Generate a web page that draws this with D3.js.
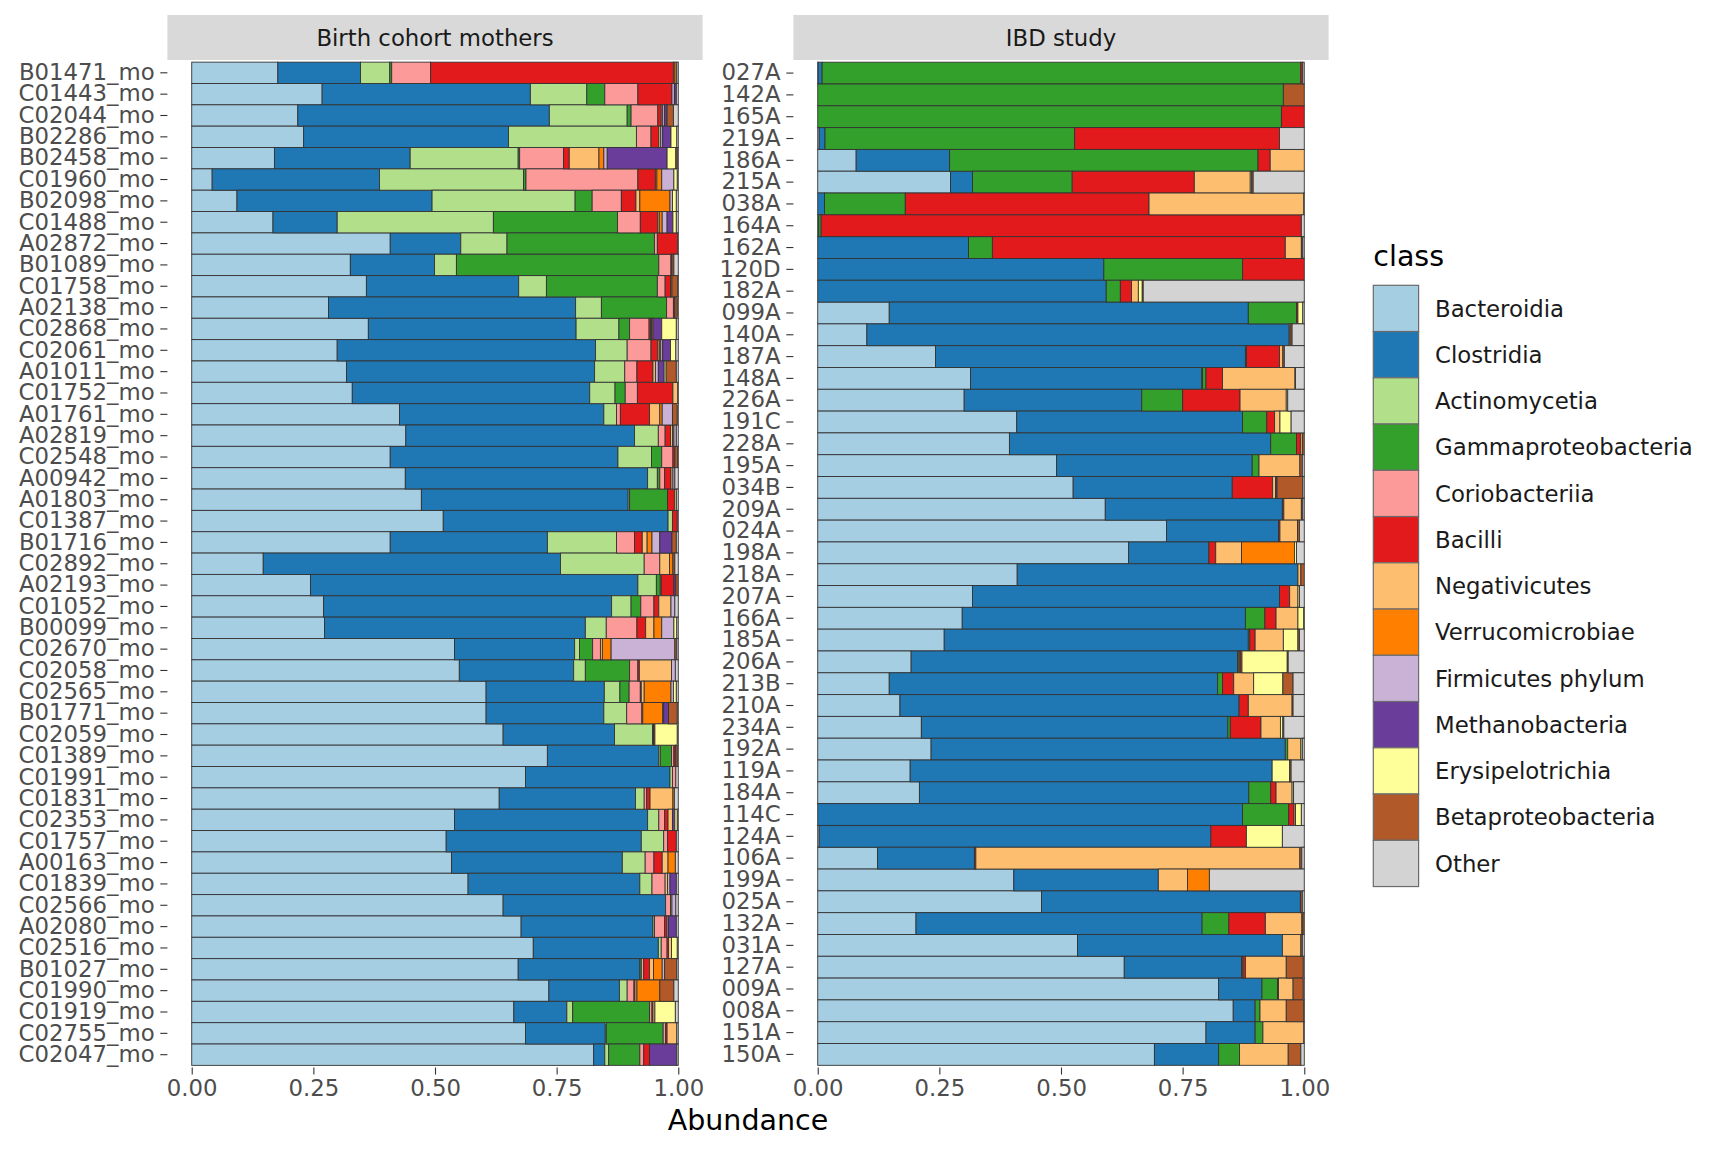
<!DOCTYPE html>
<html>
<head>
<meta charset="utf-8">
<script src="https://cdn.jsdelivr.net/npm/d3@7"></script>
<style>
  body { margin: 0; background: #fff; }
  text { font-family: "DejaVu Sans", sans-serif; }
</style>
</head>
<body>
<svg id="chart" width="1728" height="1152"></svg>
<script>
// class order as in the legend (stacked left -> right)
const classes = ["Bacteroidia", "Clostridia", "Actinomycetia", "Gammaproteobacteria",
  "Coriobacteriia", "Bacilli", "Negativicutes", "Verrucomicrobiae", "Firmicutes phylum",
  "Methanobacteria", "Erysipelotrichia", "Betaproteobacteria", "Other"];
const classColors = ["#A6CEE3", "#1F78B4", "#B2DF8A", "#33A02C", "#FB9A99", "#E31A1C",
  "#FDBF6F", "#FF7F00", "#CAB2D6", "#6A3D9A", "#FFFF99", "#B15928", "#D3D3D3"];

const panelTitles = ["Birth cohort mothers", "IBD study"];
const xTicks = [0, 0.25, 0.5, 0.75, 1];

const momSamples = ["B01471_mo", "C01443_mo", "C02044_mo", "B02286_mo", "B02458_mo", "C01960_mo",
  "B02098_mo", "C01488_mo", "A02872_mo", "B01089_mo", "C01758_mo", "A02138_mo", "C02868_mo",
  "C02061_mo", "A01011_mo", "C01752_mo", "A01761_mo", "A02819_mo", "C02548_mo", "A00942_mo",
  "A01803_mo", "C01387_mo", "B01716_mo", "C02892_mo", "A02193_mo", "C01052_mo", "B00099_mo",
  "C02670_mo", "C02058_mo", "C02565_mo", "B01771_mo", "C02059_mo", "C01389_mo", "C01991_mo",
  "C01831_mo", "C02353_mo", "C01757_mo", "A00163_mo", "C01839_mo", "C02566_mo", "A02080_mo",
  "C02516_mo", "B01027_mo", "C01990_mo", "C01919_mo", "C02755_mo", "C02047_mo"];

// one row per sample, one value per class (same order as classes)
const momAbund = [
  [.177,.170,.060,.004,.080,.499,.003,.004,0,0,0,0,.003],
  [.268,.428,.116,.037,.068,.070,0,0,.005,.004,0,0,.004],
  [.218,.517,.160,.008,.055,.007,.003,0,.004,.005,0,.013,.010],
  [.230,.421,.263,0,.030,.016,.004,0,.004,.017,.012,0,.003],
  [.170,.279,.222,.003,.090,.012,.061,.010,.007,.123,.018,.003,.002],
  [.042,.344,.296,.005,.230,.036,.003,.010,.025,0,.007,0,.002],
  [.093,.401,.294,.035,.060,.030,.008,.062,.005,0,.008,0,.004],
  [.167,.132,.321,.255,.047,.036,.003,.006,.010,.012,.007,0,.004],
  [.408,.145,.095,.303,.006,.042,0,0,0,0,0,0,.001],
  [.326,.173,.045,.416,.025,.002,0,0,0,0,0,.004,.009],
  [.359,.313,.057,.228,.016,.011,0,.003,0,0,0,.012,.001],
  [.281,.508,.053,.134,.014,.003,0,0,0,0,0,.005,.002],
  [.363,.427,.088,.022,.040,.003,.002,.003,0,.018,.030,0,.004],
  [.299,.531,.065,0,.049,.014,.003,.003,.004,.016,.011,0,.005],
  [.318,.510,.062,0,.025,.033,.005,0,.006,.012,.004,.021,.004],
  [.330,.488,.052,.021,.025,.073,.010,0,0,0,0,0,.001],
  [.427,.420,.026,0,.008,.060,.021,.005,.021,0,0,.010,.002],
  [.440,.470,.049,0,.014,.011,.004,.003,.005,0,0,0,.004],
  [.408,.468,.069,.021,.023,.004,0,0,0,0,0,.006,.001],
  [.439,.498,.020,.005,.010,.013,.004,0,.004,0,0,0,.007],
  [.472,.425,.003,.078,0,.014,.004,0,0,0,0,0,.004],
  [.517,.462,.009,0,0,.010,0,0,0,0,0,0,.002],
  [.408,.323,.142,0,.037,.016,.010,.010,.016,.025,0,.009,.004],
  [.147,.611,.172,0,.032,0,.020,.007,0,0,0,.004,.007],
  [.244,.673,.038,.008,.002,.026,0,0,0,.004,0,.005,0],
  [.271,.592,.040,.020,.027,.010,.025,0,.008,0,0,0,.007],
  [.273,.536,.043,0,.063,.018,.017,.016,.025,0,.006,0,.003],
  [.540,.247,.010,.027,.016,0,.004,.018,.131,0,0,.004,.003],
  [.550,.235,.024,.091,.017,.003,.066,0,.008,0,0,0,.006],
  [.605,.243,.032,.019,.023,.002,.006,.055,.005,0,.006,0,.004],
  [.605,.242,.047,0,.031,0,.002,.041,.002,.010,0,.018,.002],
  [.640,.229,.078,.002,0,.003,0,0,0,0,.046,0,.002],
  [.731,.229,.003,.023,.005,.003,0,0,0,0,0,.004,.002],
  [.686,.297,.005,0,.007,0,0,0,0,0,0,0,.005],
  [.632,.280,.018,0,.005,.007,.047,.003,0,0,0,0,.008],
  [.540,.397,.023,0,.012,.007,.009,0,0,.005,.005,0,.002],
  [.523,.401,.046,0,.008,.018,0,0,0,0,0,0,.004],
  [.534,.351,.047,0,.018,.017,.012,.015,0,0,0,0,.006],
  [.568,.353,.025,0,.027,0,.005,0,.005,.013,0,0,.004],
  [.640,.334,0,0,.010,0,.003,0,.008,0,0,0,.005],
  [.677,.271,.003,0,.021,.005,0,0,.003,.016,0,0,.004],
  [.702,.257,.006,0,.012,.003,.006,0,0,0,.012,0,.002],
  [.671,.250,0,.003,.005,.012,.008,.018,.005,0,0,.025,.003],
  [.734,.145,.016,0,.014,.002,.004,.047,0,0,0,.029,.009],
  [.662,.109,.012,.158,.005,.002,.004,0,0,0,.042,0,.006],
  [.686,.164,.002,.117,.005,.003,.020,0,0,0,0,0,.003],
  [.826,.023,.008,.064,.008,.012,0,0,0,.056,0,0,.003]
];

const ibdSamples = ["027A", "142A", "165A", "219A", "186A", "215A", "038A", "164A", "162A",
  "120D", "182A", "099A", "140A", "187A", "148A", "226A", "191C", "228A", "195A", "034B",
  "209A", "024A", "198A", "218A", "207A", "166A", "185A", "206A", "213B", "210A", "234A",
  "192A", "119A", "184A", "114C", "124A", "106A", "199A", "025A", "132A", "031A", "127A",
  "009A", "008A", "151A", "150A"];

const ibdAbund = [
  [.001,.008,0,.984,0,.004,0,0,0,0,0,0,.003],
  [0,0,0,.957,0,0,0,0,0,0,0,.043,0],
  [0,0,0,.953,0,.047,0,0,0,0,0,0,0],
  [.003,.012,0,.513,0,.421,0,0,0,0,0,0,.051],
  [.079,.192,0,.634,0,.025,.070,0,0,0,0,0,0],
  [.273,.045,0,.205,0,.251,.115,0,0,0,.003,.003,.105],
  [0,.014,0,.166,0,.501,.318,0,0,0,0,0,.001],
  [0,.002,0,.005,0,.987,0,0,0,0,0,0,.006],
  [0,.310,0,.049,0,.602,.033,0,0,0,0,.003,.003],
  [0,.588,0,.285,0,.127,0,0,0,0,0,0,0],
  [0,.593,0,.029,0,.023,.014,0,0,0,.008,.002,.331],
  [.147,.738,0,.099,0,.003,0,0,0,0,.010,0,.003],
  [.101,.868,0,0,0,0,.002,0,0,0,0,.004,.025],
  [.242,.637,0,.002,0,.068,.007,0,0,0,0,.003,.041],
  [.314,.475,.002,.007,0,.034,.149,0,0,0,0,.001,.018],
  [.301,.365,0,.084,0,.118,.095,0,0,0,.003,0,.034],
  [.409,.464,0,.050,0,.016,.011,0,0,0,.023,0,.027],
  [.394,.537,0,.053,0,.008,.004,0,0,0,0,.004,0],
  [.491,.402,0,.014,0,0,.084,0,0,0,0,.005,.004],
  [.525,.327,0,0,0,.083,.006,0,0,.003,0,.053,.003],
  [.591,.364,0,0,0,.003,.036,0,0,0,0,.003,.003],
  [.717,.230,0,0,0,.003,.036,0,0,0,0,.004,.010],
  [.639,.165,0,0,0,.014,.053,.109,0,0,.004,0,.016],
  [.410,.577,0,0,0,0,.006,0,0,0,0,.007,0],
  [.318,.631,0,0,0,.021,.017,0,0,0,.003,0,.010],
  [.297,.582,0,.040,0,.023,.045,0,0,0,.012,0,.001],
  [.260,.625,0,.003,0,.011,.058,0,0,0,.030,.003,.010],
  [.192,.671,0,.003,0,.004,.002,0,0,0,.093,.002,.033],
  [.147,.675,0,.010,0,.023,.041,0,0,0,.060,.021,.023],
  [.169,.697,0,0,0,.019,.090,0,0,0,0,.002,.023],
  [.213,.630,0,.005,0,.063,.040,0,0,0,.005,.002,.042],
  [.233,.728,0,.005,0,0,.027,0,0,0,.003,0,.004],
  [.190,.744,0,0,0,0,0,0,0,0,.036,.003,.027],
  [.209,.677,0,.045,0,.011,.033,0,0,0,.003,0,.022],
  [0,.873,0,.095,0,.011,.003,0,0,0,.012,0,.006],
  [.003,.805,0,0,0,.073,0,0,0,0,.074,0,.045],
  [.123,.199,0,0,0,.003,.666,0,0,0,0,.004,.005],
  [.403,.297,0,0,0,0,.060,.045,0,0,0,0,.195],
  [.460,.532,0,0,0,0,0,0,0,0,0,.004,.004],
  [.202,.588,0,.055,0,.075,.075,0,0,0,.002,.003,0],
  [.534,.421,0,0,0,0,.038,0,0,0,0,.003,.004],
  [.630,.241,0,.003,0,.005,.084,0,0,0,0,.035,.002],
  [.824,.089,0,.032,0,.002,.030,0,0,0,0,.021,.002],
  [.854,.045,0,.010,0,0,.054,0,0,0,0,.036,.001],
  [.798,.101,0,.016,0,0,.084,0,0,0,0,0,.001],
  [.692,.132,0,.043,0,0,.100,0,0,0,0,.026,.007]
];

const svg = d3.select("#chart");

const panelTop = 60, panelBottom = 1067.5, panelW = 535.2;
const stripTop = 15;
const fontSmall = 22.8, fontTitle = 28.5;
const tickLen = 7.1, tickPad = 5.7;

const color = d3.scaleOrdinal().domain(d3.range(classes.length)).range(classColors);

const panels = [
  {title: panelTitles[0], left: 167.4, samples: momSamples, rows: momAbund},
  {title: panelTitles[1], left: 793.4, samples: ibdSamples, rows: ibdAbund}
];

panels.forEach(p => {
  const x = d3.scaleLinear()
    .domain([-0.05, 1.05])
    .range([p.left, p.left + panelW]);
  const y = d3.scaleBand()
    .domain(p.samples)
    .range([panelTop, panelBottom])
    .paddingInner(0)
    .paddingOuter(0.1);

  // strip
  svg.append("rect")
    .attr("x", p.left).attr("y", stripTop)
    .attr("width", panelW).attr("height", panelTop - stripTop)
    .attr("fill", "#D9D9D9");
  svg.append("text")
    .attr("x", p.left + panelW / 2).attr("y", 45.5)
    .attr("text-anchor", "middle")
    .attr("font-size", fontSmall)
    .attr("fill", "#1A1A1A")
    .text(p.title);

  // stacked bars
  const stacked = d3.stack().keys(d3.range(classes.length))(p.rows);
  const g = svg.append("g");
  stacked.forEach(layer => {
    g.selectAll(null)
      .data(layer.map((d, i) => ({s: p.samples[i], x0: d[0], x1: d[1]}))
                 .filter(d => d.x1 - d.x0 > 0))
      .enter().append("rect")
      .attr("x", d => x(d.x0))
      .attr("y", d => y(d.s))
      .attr("width", d => x(d.x1) - x(d.x0))
      .attr("height", y.bandwidth())
      .attr("fill", color(layer.key))
      .attr("stroke", "#333")
      .attr("stroke-width", 0.9);
  });

  // axes
  const xAxis = svg.append("g")
    .attr("transform", "translate(0," + panelBottom + ")")
    .call(d3.axisBottom(x).tickValues(xTicks).tickFormat(d3.format(".2f"))
      .tickSizeInner(tickLen).tickSizeOuter(0).tickPadding(tickPad));
  const yAxis = svg.append("g")
    .attr("transform", "translate(" + p.left + ",0)")
    .call(d3.axisLeft(y).tickSizeInner(tickLen).tickSizeOuter(0).tickPadding(tickPad));

  [xAxis, yAxis].forEach(a => {
    a.select(".domain").remove();
    a.selectAll(".tick line").attr("stroke", "#333").attr("stroke-width", 1.1);
    a.selectAll(".tick text")
      .attr("font-family", "DejaVu Sans")
      .attr("font-size", fontSmall)
      .attr("fill", "#4D4D4D");
  });
});

// x axis title
svg.append("text")
  .attr("x", (167.4 + 793.4 + panelW) / 2).attr("y", 1130)
  .attr("text-anchor", "middle")
  .attr("font-size", fontTitle)
  .attr("fill", "#000")
  .text("Abundance");

// legend
const legX = 1373.3, legY = 285.3, keyW = 45.3, keyH = 46.25;
svg.append("text")
  .attr("x", legX).attr("y", 266)
  .attr("font-size", fontTitle)
  .attr("fill", "#000")
  .text("class");

const leg = svg.append("g");
classes.forEach((c, i) => {
  leg.append("rect")
    .attr("x", legX).attr("y", legY + i * keyH)
    .attr("width", keyW).attr("height", keyH)
    .attr("fill", classColors[i])
    .attr("stroke", "#6b6b6b")
    .attr("stroke-width", 1.2);
  leg.append("text")
    .attr("x", 1435).attr("y", legY + i * keyH + keyH / 2)
    .attr("dy", "0.36em")
    .attr("font-size", fontSmall)
    .attr("fill", "#1A1A1A")
    .text(c);
});
</script>
</body>
</html>
